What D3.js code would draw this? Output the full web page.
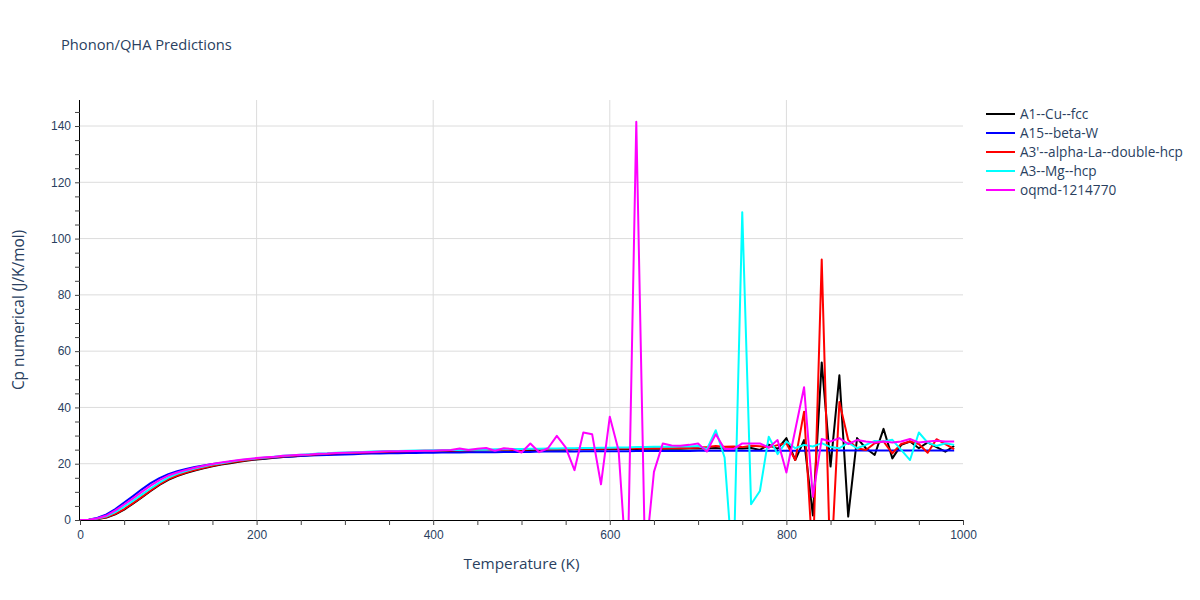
<!DOCTYPE html>
<html><head><meta charset="utf-8">
<script src="https://cdn.jsdelivr.net/npm/d3@7"></script>
<style>body{margin:0;background:#fff;} svg{display:block;font-family:"Open Sans",verdana,arial,sans-serif;}</style>
</head><body><svg id="chart" width="1200" height="600"></svg>
<script>
const temperature = [
0,10,20,30,40,50,60,70,80,90,
100,110,120,130,140,150,160,170,180,190,
200,210,220,230,240,250,260,270,280,290,
300,310,320,330,340,350,360,370,380,390,
400,410,420,430,440,450,460,470,480,490,
500,510,520,530,540,550,560,570,580,590,
600,610,620,630,640,650,660,670,680,690,
700,710,720,730,740,750,760,770,780,790,
800,810,820,830,840,850,860,870,880,890,
900,910,920,930,940,950,960,970,980,990];

const seriesNames = ["A1--Cu--fcc","A15--beta-W","A3'--alpha-La--double-hcp","A3--Mg--hcp","oqmd-1214770"];
const seriesColors = ["#000000","#0000ff","#ff0000","#00ffff","#ff00ff"];

const cpA1 = [
0,0.05,0.35,0.9,2.0,3.7,5.8,8.0,10.3,12.5,
14.3,15.6,16.7,17.6,18.4,19.1,19.7,20.2,20.7,21.1,
21.5,21.8,22.1,22.4,22.6,22.8,23.0,23.2,23.3,23.5,
23.6,23.7,23.8,23.9,24.0,24.1,24.2,24.2,24.3,24.4,
24.4,24.5,24.5,24.6,24.6,24.7,24.7,24.8,24.8,24.8,
24.9,24.9,24.9,25.0,25.0,25.0,25.1,25.1,25.1,25.1,
25.2,25.2,25.2,25.2,25.3,25.3,25.3,25.3,25.3,25.4,
25.4,25.4,25.6,25.3,25.5,25.4,25.6,24.9,26.8,25.3,
29.1,21.3,28.4,1.6,56.0,19.0,51.4,1.2,29.1,25.5,
23.1,32.4,21.9,26.7,27.9,25.5,27.6,25.9,24.3,26.3];

const cpA15 = [
0,0.1,0.8,2.0,3.9,6.2,8.5,10.9,13.1,14.9,
16.3,17.3,18.1,18.8,19.4,19.9,20.3,20.7,21.1,21.4,
21.7,21.9,22.2,22.4,22.6,22.7,22.9,23.0,23.1,23.2,
23.3,23.4,23.5,23.6,23.6,23.7,23.7,23.8,23.8,23.9,
23.9,24.0,24.0,24.0,24.1,24.1,24.1,24.1,24.2,24.2,
24.2,24.2,24.3,24.3,24.3,24.3,24.3,24.4,24.4,24.4,
24.4,24.4,24.4,24.5,24.5,24.5,24.5,24.5,24.5,24.5,
24.6,24.6,24.6,24.6,24.6,24.6,24.6,24.6,24.6,24.6,
24.6,24.6,24.6,24.7,24.7,24.7,24.7,24.7,24.7,24.7,
24.7,24.7,24.7,24.7,24.7,24.7,24.7,24.7,24.7,24.7];

const cpA3La = [
0,0.06,0.4,1.0,2.2,3.9,6.0,8.2,10.5,12.7,
14.5,15.8,16.9,17.8,18.6,19.3,19.9,20.4,20.9,21.3,
21.7,22.0,22.3,22.6,22.8,23.0,23.2,23.4,23.5,23.7,
23.8,23.9,24.0,24.1,24.2,24.3,24.4,24.4,24.5,24.6,
24.6,24.7,24.7,24.8,24.8,24.9,24.9,24.9,25.0,25.0,
25.0,25.1,25.1,25.1,25.2,25.2,25.2,25.3,25.3,25.3,
25.4,25.4,25.4,25.5,25.5,25.5,25.5,25.6,25.6,25.6,
25.7,25.9,26.3,26.0,26.1,25.9,26.4,26.2,25.8,26.6,
27.3,21.3,38.5,-15,92.6,-20,41.9,28.4,25.5,24.9,
27.3,27.9,23.7,27.0,27.9,27.0,23.9,28.7,27.0,25.2];

const cpA3Mg = [
0,0.08,0.5,1.3,2.8,4.7,6.8,9.0,11.2,13.3,
15.1,16.4,17.4,18.3,19.0,19.7,20.2,20.7,21.2,21.6,
21.9,22.2,22.5,22.8,23.0,23.2,23.4,23.6,23.7,23.9,
24.0,24.1,24.2,24.3,24.4,24.5,24.5,24.6,24.7,24.7,
24.8,24.8,24.9,24.9,25.0,25.0,25.0,25.1,25.1,25.2,
25.2,25.3,25.3,25.4,25.4,25.5,25.5,25.6,25.6,25.7,
25.7,25.8,25.8,25.9,25.9,26.0,26.0,26.0,26.1,26.1,
26.3,25.2,31.9,22.2,-20,109.4,5.6,10.3,29.6,23.4,
27.9,25.5,26.7,26.1,27.3,25.9,25.5,27.5,25.5,26.7,
28.1,27.9,28.5,24.9,21.3,31.1,27.5,26.3,27.3,26.7];

const cpOqmd = [
0,0.07,0.6,1.6,3.4,5.5,7.7,10.0,12.2,14.2,
15.8,16.9,17.8,18.6,19.3,19.9,20.4,20.9,21.3,21.7,
22.0,22.3,22.5,22.8,23.0,23.2,23.3,23.5,23.6,23.8,
23.9,24.0,24.1,24.2,24.3,24.4,24.4,24.5,24.5,24.6,
24.6,24.8,24.9,25.4,24.9,25.3,25.6,24.6,25.5,25.2,
24.0,27.2,24.1,25.5,29.9,25.8,17.7,31.1,30.5,12.7,
36.7,24.6,-22,141.5,-15,17.1,27.2,26.5,26.4,26.7,
27.2,24.3,30.5,25.2,25.2,27.2,27.2,27.2,25.7,28.4,
16.9,32.0,47.2,8.2,28.8,27.9,29.1,27.0,28.4,27.9,
27.5,27.9,27.5,27.9,28.8,27.5,27.9,28.2,27.9,27.9];

const xTickValues = [0,200,400,600,800,1000];
const yTickValues = [0,20,40,60,80,100,120,140];
const chartTitle = "Phonon/QHA Predictions";
const xTitle = "Temperature (K)";
const yTitle = "Cp numerical (J/K/mol)";

const seriesData = [cpA1, cpA15, cpA3La, cpA3Mg, cpOqmd];

const svg = d3.select("#chart");
const L = 80, R = 963, T = 100, B = 520;
const textColor = "#2a3f5f";
const x = d3.scaleLinear().domain([0,1000]).range([L,R]);
const y = d3.scaleLinear().domain([0,149.25]).range([B,T]);

// grid
const grid = svg.append("g");
grid.selectAll("line.hg").data(yTickValues.filter(v=>v>0)).enter().append("line")
  .attr("x1",L).attr("x2",R).attr("y1",d=>y(d)).attr("y2",d=>y(d))
  .attr("stroke","#dcdcdc").attr("stroke-width",1);
grid.selectAll("line.vg").data(xTickValues.filter(v=>v>0&&v<1000)).enter().append("line")
  .attr("y1",T).attr("y2",B).attr("x1",d=>x(d)).attr("x2",d=>x(d))
  .attr("stroke","#dcdcdc").attr("stroke-width",1);

// clip
svg.append("defs").append("clipPath").attr("id","clip").append("rect")
  .attr("x",L).attr("y",T).attr("width",R-L).attr("height",B-T);

const line = d3.line().x((d,i)=>x(temperature[i])).y(d=>y(d));
const lines = svg.append("g").attr("clip-path","url(#clip)");
seriesData.forEach((s,k)=>{
  lines.append("path").datum(s).attr("d",line).attr("fill","none")
    .attr("stroke",seriesColors[k]).attr("stroke-width",2).attr("stroke-linejoin","round");
});

// axes
const xAxis = d3.axisBottom(x).tickValues(d3.range(0,1001,50)).tickSize(5)
  .tickFormat(d=> xTickValues.includes(d) ? d : "");
const gx = svg.append("g").attr("transform",`translate(0,${B})`).call(xAxis);
gx.select(".domain").attr("stroke","#000").attr("d",`M${L},0.5H${R}`);
gx.selectAll(".tick line").attr("stroke","#444");
gx.selectAll(".tick text").attr("fill",textColor).attr("font-size",12).attr("dy","0.95em");

const yAxis = d3.axisLeft(y).tickValues(d3.range(0,146,5)).tickSize(5)
  .tickFormat(d=> yTickValues.includes(d) ? d : "");
const gy = svg.append("g").attr("transform",`translate(${L},0)`).call(yAxis);
gy.select(".domain").attr("stroke","#000").attr("d",`M-0.5,${B}V${T}`);
gy.selectAll(".tick line").attr("stroke","#444");
gy.selectAll(".tick text").attr("fill",textColor).attr("font-size",12).attr("x",-9);

// titles
svg.append("text").attr("x",61).attr("y",50).attr("fill",textColor).attr("font-size",14.7).text(chartTitle);
svg.append("text").attr("x",(L+R)/2).attr("y",569).attr("text-anchor","middle").attr("fill",textColor).attr("font-size",15.3).text(xTitle);
svg.append("text").attr("transform",`translate(24,${(T+B)/2}) rotate(-90)`).attr("text-anchor","middle").attr("fill",textColor).attr("font-size",15.4).text(yTitle);

// legend
const lg = svg.append("g").attr("transform","translate(985,114)");
seriesNames.forEach((n,k)=>{
  const g = lg.append("g").attr("transform",`translate(0,${k*19})`);
  g.append("line").attr("x1",1).attr("x2",30).attr("y1",0).attr("y2",0).attr("stroke",seriesColors[k]).attr("stroke-width",2);
  g.append("text").attr("x",35).attr("y",4.8).attr("fill",textColor).attr("font-size",13.6).text(n);
});
</script></body></html>
